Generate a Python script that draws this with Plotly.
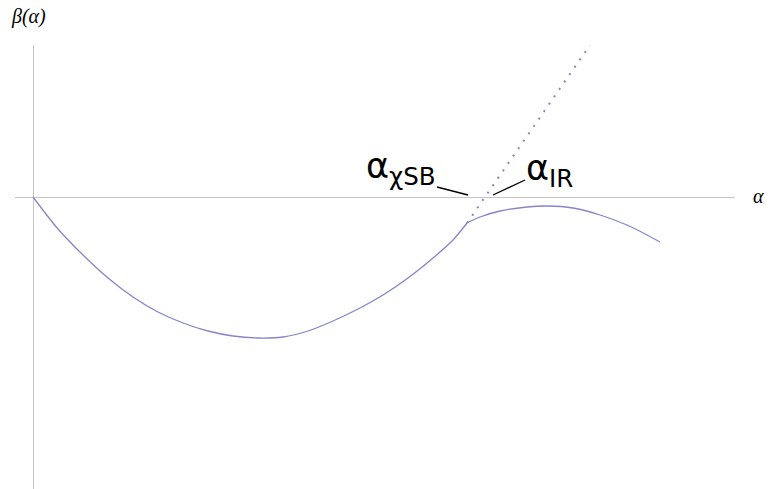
import plotly.graph_objects as go

# courbe beta(alpha), avant le point de brisure
x_chiSB = [0, 25, 50, 75, 100, 125, 150, 175, 200, 225, 250, 275, 300, 325, 350, 375, 400, 420, 434]
y_chiSB = [0, -32, -58, -81, -100, -115, -126, -134, -139, -141, -140, -134, -124, -112, -98, -81, -61, -43, -26]

# courbe apres la brisure
x_IR = [434, 447, 467, 494, 514, 540, 567, 594, 627]
y_IR = [-26, -20, -14, -10, -9, -11, -18, -28, -45]

# prolongement en pointilles
x_ext = [434, 557]
y_ext = [-26, 152]

# traits de rappel des etiquettes
x_lead_SB = [404, 435]
y_lead_SB = [10, 2]
x_lead_IR = [460, 492]
y_lead_IR = [2, 17]

couleur = '#8585c8'

fig = go.Figure()
fig.add_trace(go.Scatter(x=x_chiSB, y=y_chiSB, mode='lines', line_shape='spline',
                         line={'color': couleur, 'width': 1.3, 'smoothing': 0.8}))
fig.add_trace(go.Scatter(x=x_IR, y=y_IR, mode='lines', line_shape='spline',
                         line={'color': couleur, 'width': 1.3}))
fig.add_trace(go.Scatter(x=x_ext, y=y_ext, mode='lines',
                         line={'color': couleur, 'width': 2, 'dash': '2px,7px'}))
for xs, ys in [(x_lead_SB, y_lead_SB), (x_lead_IR, y_lead_IR)]:
    fig.add_trace(go.Scatter(x=xs, y=ys, mode='lines',
                             line={'color': 'black', 'width': 1.3}))

police = {'family': 'DejaVu Sans', 'size': 35, 'color': 'black'}
fig.add_annotation(x=405, y=4, xref='x', yref='y', text='α<sub>χSB</sub>',
                   showarrow=False, xanchor='right', yanchor='bottom', font=police)
fig.add_annotation(x=491, y=2, xref='x', yref='y', text='α<sub>IR</sub>',
                   showarrow=False, xanchor='left', yanchor='bottom', font=police)

serif = {'family': 'Liberation Serif', 'size': 20, 'color': 'black'}
fig.add_annotation(x=-0.009, y=1.095, xref='paper', yref='paper', text='<i>β(α)</i>',
                   showarrow=False, xanchor='left', yanchor='top', font=serif)
fig.add_annotation(x=1.022, y=1, xref='paper', yref='y', text='<i>α</i>',
                   showarrow=False, xanchor='left', yanchor='middle', font=serif)

fig.update_xaxes(range=[-18, 702], showgrid=False, showticklabels=False, ticks='',
                 zeroline=True, zerolinecolor='#c4c4c4', zerolinewidth=1)
fig.update_yaxes(range=[-292, 152], showgrid=False, showticklabels=False, ticks='',
                 zeroline=True, zerolinecolor='#c4c4c4', zerolinewidth=1)
fig.update_layout(width=768, height=489, showlegend=False,
                  margin={'l': 15, 'r': 33, 't': 45, 'b': 0},
                  plot_bgcolor='white', paper_bgcolor='white')
fig.write_html("out.html", config={'displayModeBar': False},
               post_script="document.body.style.margin='0';")
